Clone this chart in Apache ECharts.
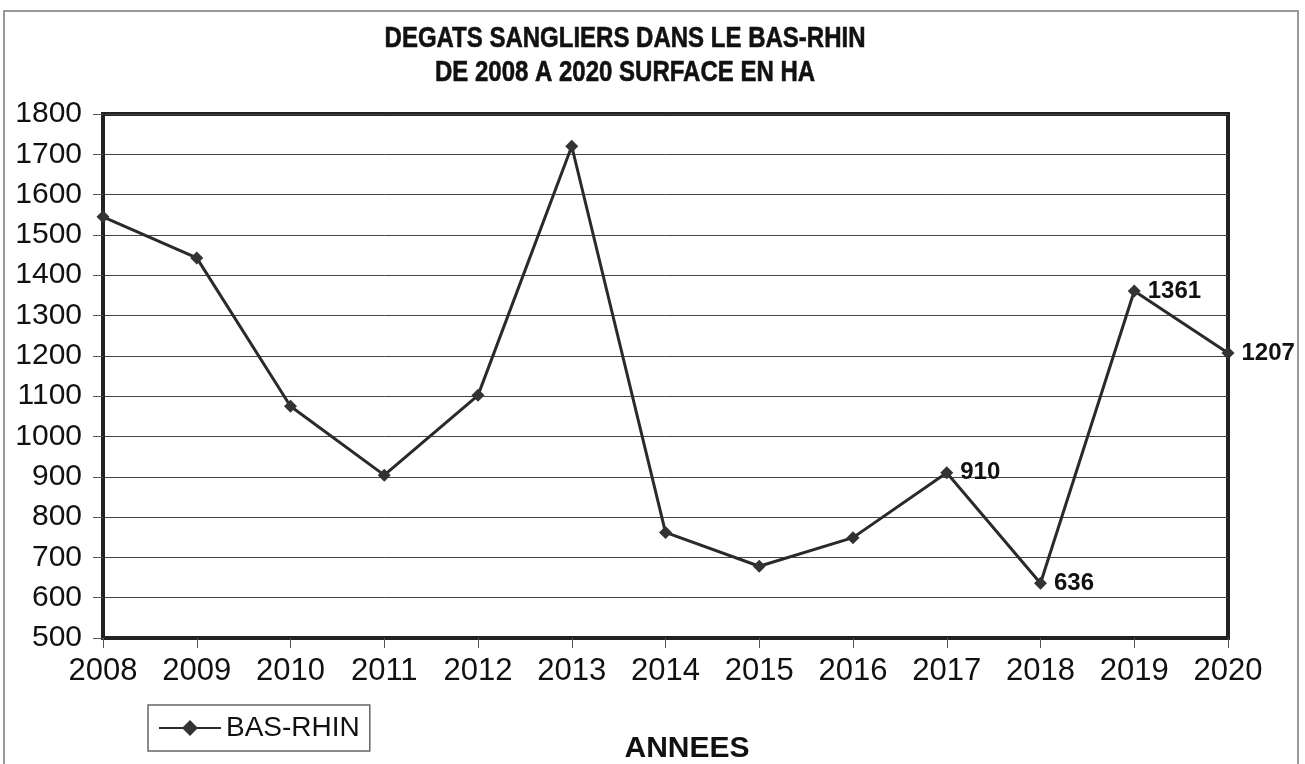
<!DOCTYPE html>
<html>
<head>
<meta charset="utf-8">
<script src="https://cdn.jsdelivr.net/npm/echarts@6/dist/echarts.min.js"></script>
<style>
  html, body { margin: 0; padding: 0; background: #fff; }
  #chart { width: 1305px; height: 764px; }
</style>
</head>
<body>
<div id="chart"></div>
<script>
const years = [
  "2008", "2009", "2010", "2011", "2012", "2013", "2014",
  "2015", "2016", "2017", "2018", "2019", "2020",
];

const surfaces = [
  1545, 1443, 1075, 904, 1102, 1720, 762,
  678, 749, 910, 636, 1361, 1207,
];

// only the last few points carry their value in the original
const labelledYears = ["2017", "2018", "2019", "2020"];

const yTicks = {
  min: 500,
  max: 1800,
  interval: 100,
};

const titleText = "DEGATS SANGLIERS DANS LE BAS-RHIN\nDE 2008 A 2020 SURFACE EN HA";

const chart = echarts.init(document.getElementById("chart"));

const font = "'Liberation Sans', Arial, sans-serif";

chart.setOption({
  animation: false,
  textStyle: {
    fontFamily: font,
  },
  title: [
    {
      text: "ANNEES",
      left: 687,
      top: 734,
      textAlign: "center",
      padding: 0,
      textStyle: {
        fontFamily: font,
        fontSize: 30,
        fontWeight: "bold",
        color: "#111",
      },
    },
  ],
  graphic: [
    {
      type: "rect",
      silent: true,
      shape: { x: 4, y: 11, width: 1294, height: 780 },
      style: { fill: "none", stroke: "#999", lineWidth: 2 },
    },
    {
      // the scanned title uses a condensed bold face
      type: "text",
      silent: true,
      x: 625,
      y: 56,
      scaleX: 0.8,
      style: {
        text: titleText,
        font: `bold 30px ${font}`,
        lineHeight: 34,
        align: "center",
        verticalAlign: "middle",
        fill: "#111",
        stroke: "#111",
        lineWidth: 0.6,
      },
    },
  ],
  legend: {
    left: 148,
    top: 705,
    padding: [9, 10],
    itemWidth: 62,
    itemHeight: 20,
    borderColor: "#666",
    borderWidth: 1.5,
    borderRadius: 0,
    textStyle: {
      fontFamily: font,
      fontSize: 28,
      color: "#111",
    },
    data: ["BAS-RHIN"],
  },
  grid: {
    show: true,
    left: 103,
    right: 77,
    top: 114,
    bottom: 126,
    borderColor: "#222",
    borderWidth: 4,
    backgroundColor: "transparent",
  },
  xAxis: {
    type: "category",
    data: years,
    boundaryGap: false,
    axisLine: {
      lineStyle: { color: "#222", width: 4 },
    },
    axisTick: {
      show: true,
      length: 10,
      lineStyle: { color: "#555", width: 1 },
    },
    axisLabel: {
      fontFamily: font,
      fontSize: 31,
      color: "#111",
      margin: 18,
    },
    splitLine: { show: false },
  },
  yAxis: {
    type: "value",
    min: yTicks.min,
    max: yTicks.max,
    interval: yTicks.interval,
    axisLine: {
      show: true,
      lineStyle: { color: "#222", width: 4 },
    },
    axisTick: {
      show: true,
      length: 10,
      lineStyle: { color: "#555", width: 1 },
    },
    axisLabel: {
      fontFamily: font,
      fontSize: 30,
      color: "#111",
      margin: 21,
      formatter: (value) => String(value),
    },
    splitLine: {
      show: true,
      lineStyle: { color: "#444", width: 1 },
    },
  },
  series: [
    {
      name: "BAS-RHIN",
      type: "line",
      symbol: "diamond",
      symbolSize: 13,
      showAllSymbol: true,
      itemStyle: { color: "#333" },
      lineStyle: { color: "#2a2a2a", width: 3 },
      data: surfaces.map((value, index) => {
        return {
          value,
          label: {
            show: labelledYears.includes(years[index]),
          },
        };
      }),
      label: {
        position: "right",
        distance: 7,
        fontFamily: font,
        fontSize: 24,
        fontWeight: "bold",
        color: "#111",
      },
    },
  ],
});
</script>
</body>
</html>
